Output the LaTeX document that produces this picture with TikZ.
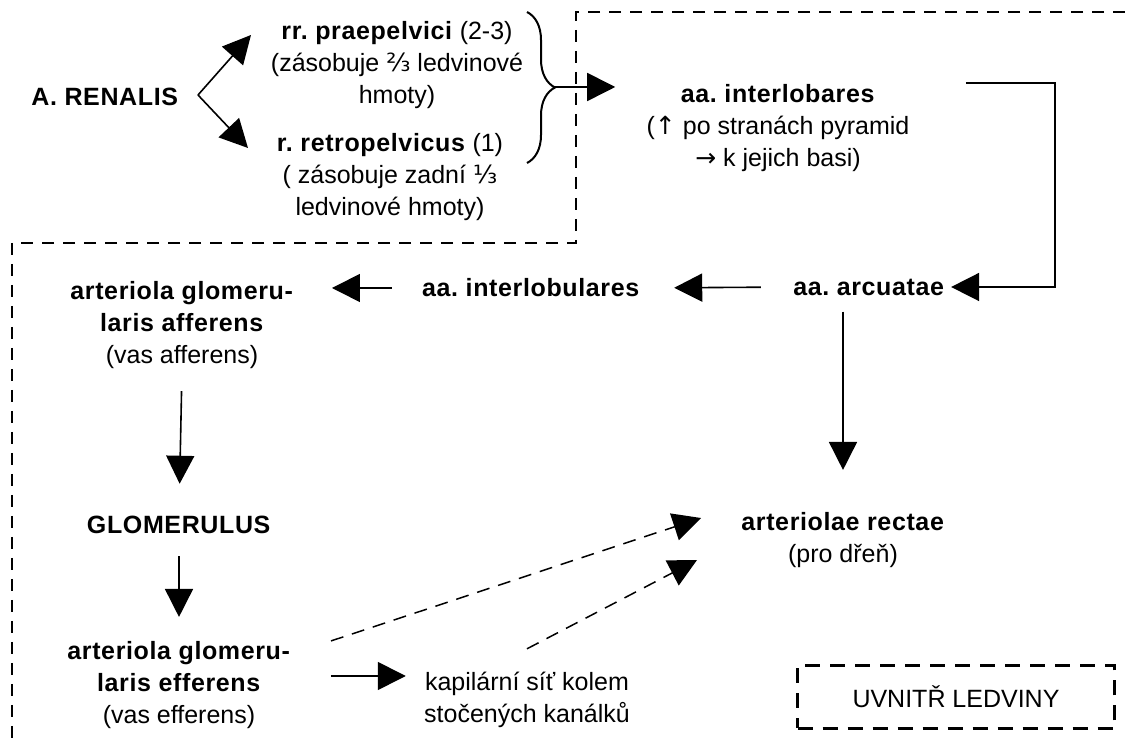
\documentclass[tikz,border=0pt]{standalone}
\usepackage{fontspec}
\setmainfont{Liberation Sans}[BoldFeatures={LetterSpace=2.5}]
\newfontfamily\arrfont{DejaVu Sans}
\usepackage{tikz}
\usetikzlibrary{
  arrows.meta,              % Triangle 箭头
  calc,                     % 坐标计算
  decorations.pathreplacing % 大括号装饰
}

\begin{document}
\frenchspacing
\begin{tikzpicture}[
  >={Triangle[length=14pt, width=14pt]},
  x=0.5pt, y=-0.5pt,
  txt/.style={align=center, inner sep=0pt, font=\fontsize{12.5}{16}\selectfont},
  arr/.style={->, line width=0.8pt},
  dasharr/.style={->, line width=0.75pt, dash pattern=on 6.5pt off 4.5pt},
  bound/.style={line width=1pt, dash pattern=on 6pt off 4.5pt},
  brace/.style={decorate, line width=1pt, decoration={brace, amplitude=14pt}}
]
  \useasboundingbox (0,0) rectangle (1125,742);

  % 1. 肾外部分：A. RENALIS 及两支
  \node[txt] (renalis) at (105,97) {\textbf{A. RENALIS}};
  \node[txt] (prae) at (397,65)
    {\textbf{rr. praepelvici} (2-3)\\(zásobuje {\arrfont ⅔} ledvinové\\hmoty)};
  \node[txt] (retro) at (390,177)
    {\textbf{r. retropelvicus} (1)\\( zásobuje zadní {\arrfont ⅓}\\ledvinové hmoty)};

  % 分叉点与两个箭头
  \coordinate (split) at (198,95);
  \coordinate (praein) at (251,35);
  \coordinate (retroin) at (248,148);
  \draw[arr] (split) -- (praein);
  \draw[arr] (split) -- (retroin);

  % 大括号，尖端向右
  \draw[brace] (527,12) -- (527,163);
  \coordinate (bracetip) at (555,87);

  % 2. 肾内部分
  \node[txt] (interlobares) at (778,128)
    {\textbf{aa. interlobares}\\({\arrfont ↑} po stranách pyramid\\{\arrfont →} k jejich basi)};
  \node[txt] (arcuatae) at (869,287) {\textbf{aa. arcuatae}};
  \node[txt] (interlobulares) at (531,288) {\textbf{aa. interlobulares}};
  \node[txt] (afferens) at (182,325)
    {\textbf{arteriola glomeru-}\\\textbf{laris afferens}\\(vas afferens)};
  \node[txt] (glomerulus) at (179,525) {\textbf{GLOMERULUS}};
  \node[txt] (efferens) at (179,685)
    {\textbf{arteriola glomeru-}\\\textbf{laris efferens}\\(vas efferens)};
  \node[txt] (kapilarni) at (527,700) {kapilární síť kolem\\stočených kanálků};
  \node[txt] (rectae) at (843,540) {\textbf{arteriolae rectae}\\(pro dřeň)};

  % 3. 连接箭头
  \draw[arr, shorten >=15.5pt] (bracetip) -- (interlobares.west |- bracetip);
  \draw[arr, shorten >=3pt] ([xshift=28pt, yshift=22.5pt]interlobares.east)
    -| ($(arcuatae.east)+(110,0)$) -- (arcuatae.east);
  \draw[arr, shorten <=16pt, shorten >=17pt] (arcuatae.west) -- (interlobulares.east);
  \draw[arr, shorten <=15pt, shorten >=19pt] (interlobulares.west)
    -- (afferens.east |- interlobulares.west);
  \draw[arr, shorten <=11pt, shorten >=16pt] (afferens.south) -- (glomerulus.north);
  \draw[arr, shorten <=11pt, shorten >=12pt] (glomerulus.south) -- (efferens.north);
  \draw[arr, shorten <=20pt, shorten >=9pt] (efferens.east |- 0,676)
    -- (kapilarni.west |- 0,676);
  \draw[arr, shorten <=8pt, shorten >=21pt] (arcuatae.south -| rectae.north) -- (rectae.north);

  % 虚线箭头汇入 arteriolae rectae
  \draw[dasharr] ([xshift=20pt]efferens.north east) -- ([xshift=-20pt, yshift=11pt]rectae.west);
  \draw[dasharr] ([yshift=11.5pt]kapilarni.north) -- ([xshift=-22pt, yshift=-10pt]rectae.west);

  % 4. 肾的边界（虚线）与图例
  \draw[bound] (1125,12) -- (576,12) -- (576,243) -- (12,243) -- (12,742);
  \node[txt, draw, line width=1.5pt, dash pattern=on 7.5pt off 5pt,
        minimum width=158.5pt, minimum height=31.5pt] (uvnitr) at (956,697) {UVNITŘ LEDVINY};

\end{tikzpicture}
\end{document}
